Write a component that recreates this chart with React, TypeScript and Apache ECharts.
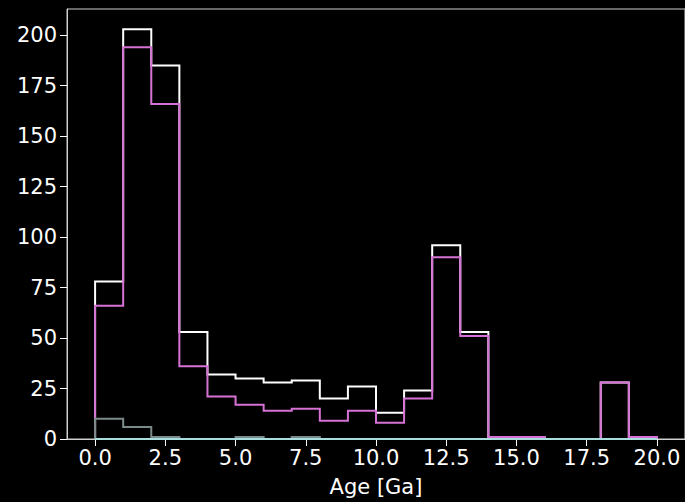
import React, { useEffect, useRef } from "react";
import * as echarts from "echarts";

// Bin edges 0..20 (width 1)
const binEdges = Array.from({ length: 21 }, (_, i) => i);
const totalCounts = [78, 203, 185, 53, 32, 30, 28, 29, 20, 26, 13, 24, 96, 53, 1, 1, 0, 0, 28, 1];
const violetCounts = [66, 194, 166, 36, 21, 17, 14, 15, 9, 14, 8, 20, 90, 51, 1, 1, 0, 0, 28, 1];
const grayCounts = [10, 6, 1, 0, 0, 1, 0, 1, 0, 0, 0, 0, 0, 0, 0, 0, 0, 0, 0, 0];
const tealCounts = [0, 0, 0, 0, 0, 0, 0, 0, 0, 0, 0, 0, 0, 0, 0, 0, 0, 0, 0, 0];
const xTicks = [0, 2.5, 5, 7.5, 10, 12.5, 15, 17.5, 20];
const yTicks = [0, 25, 50, 75, 100, 125, 150, 175, 200];

function stepPoints(counts: number[]): [number, number][] {
  const pts: [number, number][] = [[binEdges[0], 0]];
  counts.forEach((c, i) => {
    pts.push([binEdges[i], c]);
    pts.push([binEdges[i + 1], c]);
  });
  pts.push([binEdges[binEdges.length - 1], 0]);
  return pts;
}

const FONT = "DejaVu Sans";

export default function App() {
  const ref = useRef<HTMLDivElement>(null);
  useEffect(() => {
    if (!ref.current) return;
    const chart = echarts.init(ref.current, undefined, { renderer: "svg" });
    const mk = (name: string, counts: number[], color: string) => ({
      name,
      type: "line",
      data: stepPoints(counts),
      showSymbol: false,
      symbol: "none",
      lineStyle: { color, width: 2, join: "miter" },
      itemStyle: { color },
    });
    chart.setOption({
      animation: false,
      backgroundColor: "#000000",
      grid: {
        left: 67,
        top: 9,
        width: 625,
        height: 431,
        show: true,
        borderColor: "#d0d0d0",
        borderWidth: 1,
        backgroundColor: "transparent",
      },
      xAxis: {
        type: "value",
        min: -1,
        max: 21,
        name: "Age [Ga]",
        nameLocation: "middle",
        nameGap: 37,
        nameTextStyle: { color: "#ffffff", fontFamily: FONT, fontSize: 21 },
        axisLine: { show: true, onZero: false, lineStyle: { color: "#d0d0d0", width: 1 } },
        axisTick: { show: true, length: 7, customValues: xTicks, lineStyle: { color: "#ffffff", width: 1 } },
        axisLabel: {
          customValues: xTicks,
          color: "#ffffff",
          fontFamily: FONT,
          fontSize: 21,
          margin: 8,
          formatter: (v: number) => v.toFixed(1),
        },
        splitLine: { show: false },
      },
      yAxis: {
        type: "value",
        min: 0,
        max: 213,
        axisLine: { show: true, onZero: false, lineStyle: { color: "#d0d0d0", width: 1 } },
        axisTick: { show: true, length: 7, customValues: yTicks, lineStyle: { color: "#ffffff", width: 1 } },
        axisLabel: {
          customValues: yTicks,
          color: "#ffffff",
          fontFamily: FONT,
          fontSize: 21,
          margin: 10,
        },
        splitLine: { show: false },
      },
      series: [
        mk("total", totalCounts, "#ffffff"),
        mk("violet", violetCounts, "#d672d6"),
        mk("gray", grayCounts, "#7d8a8a"),
        mk("teal", tealCounts, "#a8dede"),
      ],
    });
    return () => chart.dispose();
  }, []);
  return (
    <div
      ref={ref}
      style={{ position: "fixed", left: 0, top: 0, width: 685, height: 502, background: "#000" }}
    />
  );
}
